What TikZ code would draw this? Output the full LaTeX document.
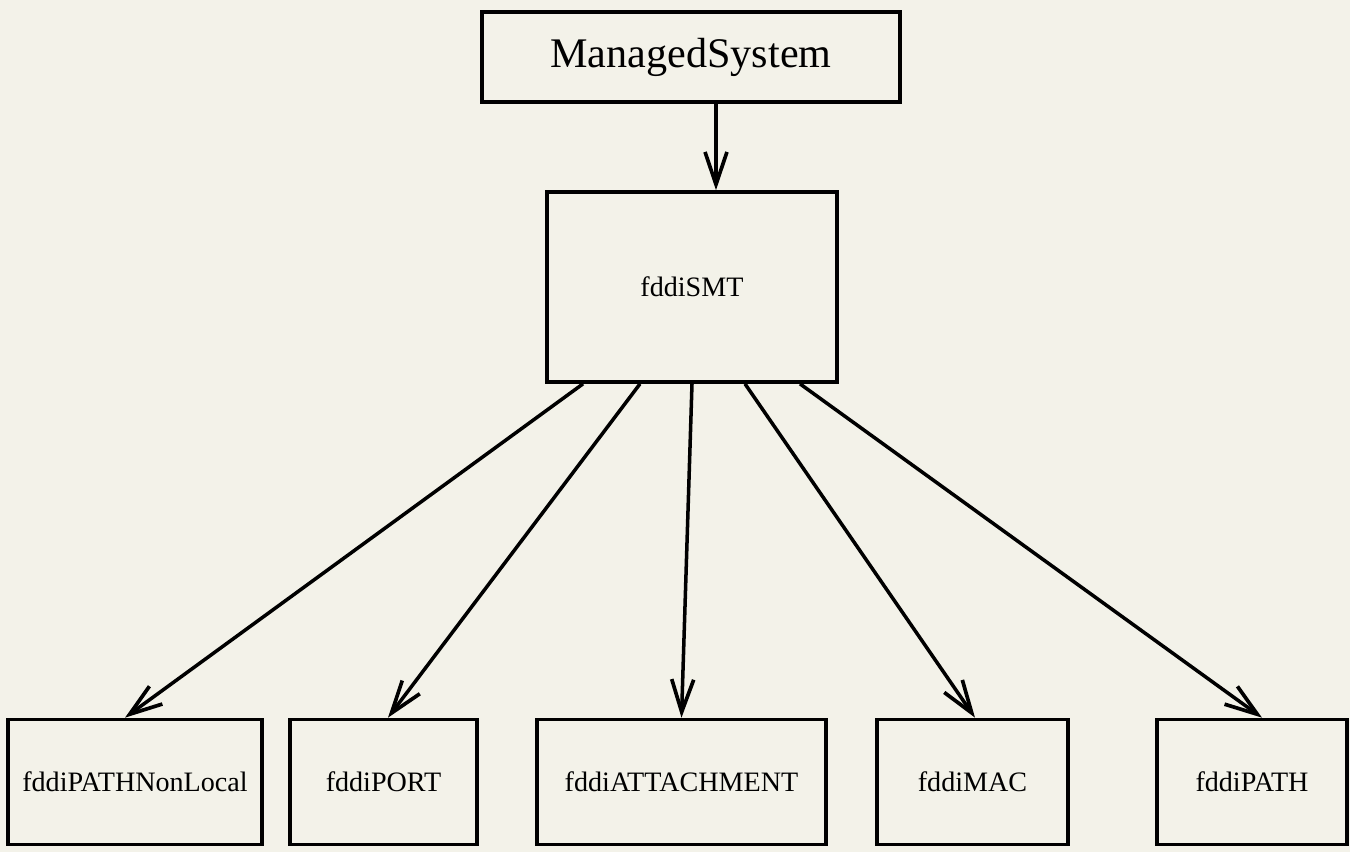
\documentclass[tikz,border=0pt]{standalone}
\usepackage{fontspec}
\setmainfont{Liberation Serif}
\usepackage{xcolor}
\usepackage{tikz}
\usetikzlibrary{arrows.meta, positioning}
\definecolor{paper}{RGB}{243,242,233}

\begin{document}
\begin{tikzpicture}[
    x=0.02cm, y=-0.02cm,
    box/.style={draw, line width=2.1pt, fill=paper, align=center, minimum height=2.5cm, font=\fontsize{16}{18}\selectfont},
    arrow/.style={-{Straight Barb[length=6.5mm, width=4.4mm, line width=2.1pt]}, line width=2pt}
]
\fill[paper] (0,0) rectangle (1350,852);
\useasboundingbox (0,0) rectangle (1350,852);

\node[box, minimum width=8.36cm, minimum height=1.8cm, font=\fontsize{24}{28}\selectfont] (ms) at (691,57) {ManagedSystem};
\node[box, minimum width=5.8cm, minimum height=3.8cm] (smt) at (692,287) {fddiSMT};

\node[box, minimum width=5.08cm] (nonlocal) at (135,782) {fddiPATHNonLocal};
\node[box, minimum width=3.74cm] (port) at (383.5,782) {fddiPORT};
\node[box, minimum width=5.78cm] (attach) at (681.5,782) {fddiATTACHMENT};
\node[box, minimum width=3.82cm] (mac) at (972.5,782) {fddiMAC};
\node[box, minimum width=3.8cm] (path) at (1252,782) {fddiPATH};

\draw[arrow] ([xshift=0.5cm]ms.south) -- ([xshift=0.48cm]smt.north);
\draw[arrow] ([xshift=-2.18cm]smt.south) -- ([xshift=-0.2cm]nonlocal.north);
\draw[arrow] ([xshift=-1.04cm]smt.south) -- ([xshift=0.09cm]port.north);
\draw[arrow] (smt.south) -- (attach.north);
\draw[arrow] ([xshift=1.06cm]smt.south) -- ([xshift=0.05cm]mac.north);
\draw[arrow] ([xshift=2.16cm]smt.south) -- ([xshift=0.2cm]path.north);

\end{tikzpicture}
\end{document}
